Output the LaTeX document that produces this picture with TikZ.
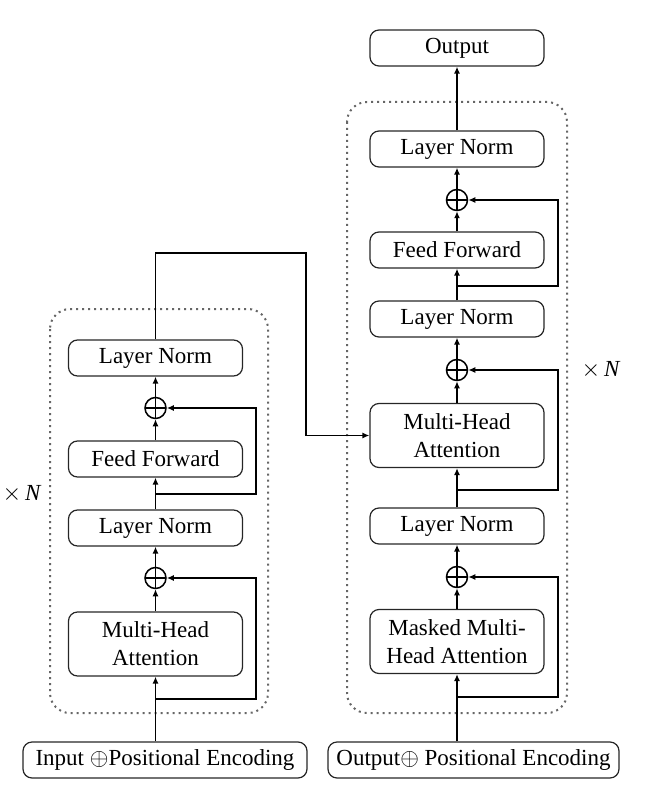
\documentclass[tikz,border=0pt]{standalone}
\usepackage{fontspec}
\setmainfont{Liberation Serif}
\usetikzlibrary{arrows.meta}
\begin{document}
\begin{tikzpicture}[x=0.5pt,y=-0.5pt,
 blk/.style={draw=black!85, line width=0.6pt, rounded corners=4.5pt, minimum width=87pt, minimum height=18pt, inner sep=0pt, align=center, font=\fontsize{11.5}{14}\selectfont},
 blk2/.style={blk, minimum height=32pt},
 addc/.style={circle, draw, line width=0.75pt, minimum size=10.5pt, inner sep=0pt,
   path picture={\draw[line width=0.75pt] (path picture bounding box.north) -- (path picture bounding box.south) (path picture bounding box.west) -- (path picture bounding box.east);}},
 con/.style={line width=0.75pt},
 arr/.style={con, -{Latex[length=3.5pt,width=3pt]}},
 rep/.style={draw=black!60, dotted, line width=1pt, rounded corners=10pt},
 lbl/.style={font=\fontsize{11.5}{14}\selectfont, inner sep=0pt}
]
\useasboundingbox (0,0) rectangle (650,802);

% repeat frames
\draw[rep] (50,309) rectangle (268,713);
\draw[rep] (347,102) rectangle (567,713);

% encoder (left)
\node[blk]  (lnL1) at (155.5,358) {Layer Norm};
\node[addc] (addL1) at (155.5,408) {};
\node[blk]  (ffL)  at (155.5,459) {Feed Forward};
\node[blk]  (lnL2) at (155.5,528) {Layer Norm};
\node[addc] (addL2) at (155.5,578) {};
\node[blk2] (mhaL) at (155.5,644) {Multi-Head\\Attention};
\node[blk, minimum width=142pt] (inL) at (165,760) {Input $\oplus$Positional Encoding};
\node[lbl] (nL) at (22,494) {$\times$\,\textit{N}};

% decoder (right)
\node[blk]  (outR) at (457,48) {Output};
\node[blk]  (lnR1) at (457,149) {Layer Norm};
\node[addc] (addR1) at (457,200) {};
\node[blk]  (ffR)  at (457,250) {Feed Forward};
\node[blk]  (lnR2) at (457,319) {Layer Norm};
\node[addc] (addR2) at (457,370) {};
\node[blk2] (mhaR) at (457,435.5) {Multi-Head\\Attention};
\node[blk]  (lnR3) at (457,526) {Layer Norm};
\node[addc] (addR3) at (457,577) {};
\node[blk2] (mmhaR) at (457,641.5) {Masked Multi-\\Head Attention};
\node[blk, minimum width=145.5pt] (inR) at (473.5,760) {Output$\oplus$ Positional Encoding};
\node[lbl] (nR) at (601,370) {$\times$\,\textit{N}};

% encoder connectors
\draw[arr] (mhaL.south |- inL.north) -- (mhaL.south);
\draw[arr] (mhaL.north) -- (addL2.south);
\draw[arr] (addL2.north) -- (lnL2.south);
\draw[arr] (lnL2.north) -- (ffL.south);
\draw[arr] (ffL.north) -- (addL1.south);
\draw[arr] (addL1.north) -- (lnL1.south);
\coordinate (bL2) at (155.5,699);
\coordinate (rL2) at (256,578);
\draw[arr] (bL2) -- (bL2 -| rL2) -- (rL2) -- (addL2.east);
\coordinate (bL1) at (155.5,494);
\coordinate (rL1) at (256,408);
\draw[arr] (bL1) -- (bL1 -| rL1) -- (rL1) -- (addL1.east);

% cross connection
\coordinate (c1) at (155.5,253);
\coordinate (c2) at (306,253);
\draw[arr] (lnL1.north) -- (c1) -- (c2) -- (c2 |- mhaR.west) -- (mhaR.west);

% decoder connectors
\draw[arr] (mmhaR.south |- inR.north) -- (mmhaR.south);
\draw[arr] (mmhaR.north) -- (addR3.south);
\draw[arr] (addR3.north) -- (lnR3.south);
\draw[arr] (lnR3.north) -- (mhaR.south);
\draw[arr] (mhaR.north) -- (addR2.south);
\draw[arr] (addR2.north) -- (lnR2.south);
\draw[arr] (lnR2.north) -- (ffR.south);
\draw[arr] (ffR.north) -- (addR1.south);
\draw[arr] (addR1.north) -- (lnR1.south);
\draw[arr] (lnR1.north) -- (outR.south);
\coordinate (bR3) at (457,697);
\coordinate (rR3) at (558,577);
\draw[arr] (bR3) -- (bR3 -| rR3) -- (rR3) -- (addR3.east);
\coordinate (bR2) at (457,490);
\coordinate (rR2) at (558,370);
\draw[arr] (bR2) -- (bR2 -| rR2) -- (rR2) -- (addR2.east);
\coordinate (bR1) at (457,286);
\coordinate (rR1) at (558,200);
\draw[arr] (bR1) -- (bR1 -| rR1) -- (rR1) -- (addR1.east);
\end{tikzpicture}
\end{document}
